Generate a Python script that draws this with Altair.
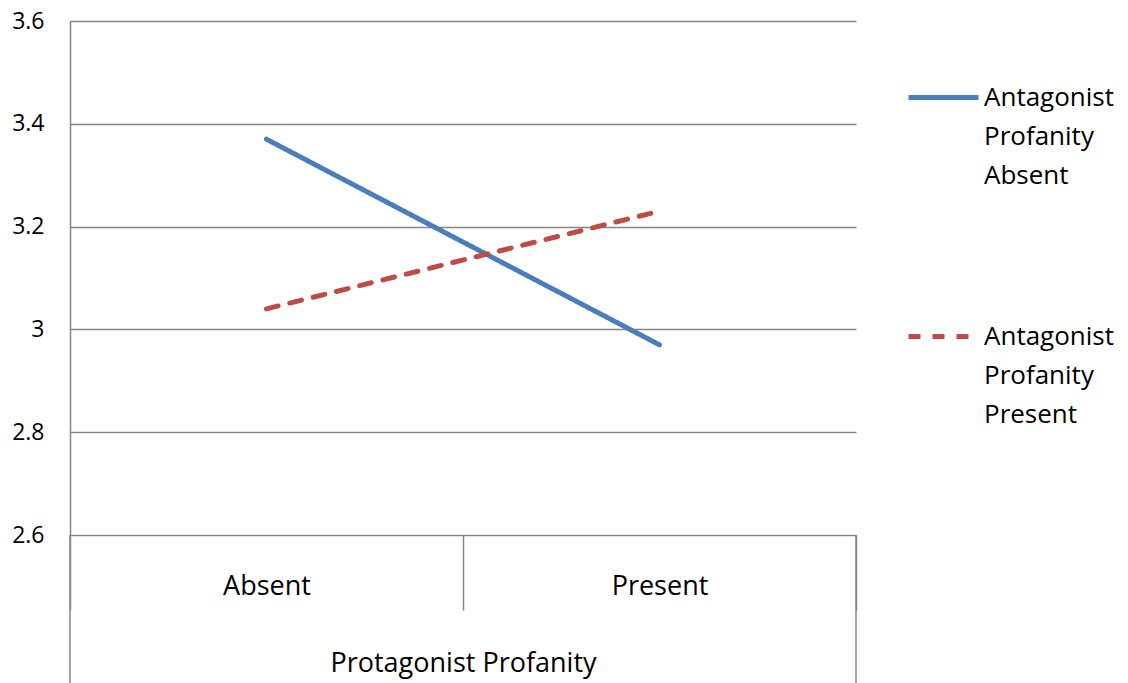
import altair as alt
import pandas as pd

# --- data ---
protagonist = ["Absent", "Present"]
series_names = ["Antagonist Profanity Absent", "Antagonist Profanity Present"]
antag_absent = [3.37, 2.97]
antag_present = [3.04, 3.23]
y_ticks = [2.6, 2.8, 3.0, 3.2, 3.4, 3.6]

rows = []
for name, vals in zip(series_names, [antag_absent, antag_present]):
    for cat, v in zip(protagonist, vals):
        rows.append({"protagonist": cat, "series": name, "value": v})
df = pd.DataFrame(rows)

W, H = 786, 514
GRID = "#868686"
FONT = "Open Sans"

legend = alt.Legend(
    title=None,
    orient="none",
    legendX=836,
    legendY=39,
    symbolType="stroke",
    symbolSize=4900,
    symbolStrokeWidth=5,
    labelFont=FONT,
    labelFontSize=26,
    labelColor="black",
    labelOffset=3,
    labelLimit=400,
    labelBaseline="middle",
    labelExpr="[split(datum.label, ' ')[0], split(datum.label, ' ')[1], split(datum.label, ' ')[2], '']",
    rowPadding=71,
    padding=0,
)

lines = alt.Chart(df).mark_line(strokeWidth=5, strokeCap="round").encode(
    x=alt.X(
        "protagonist:N",
        sort=protagonist,
        bandPosition=0.5,
        scale=alt.Scale(type="band", domain=protagonist, paddingInner=0, paddingOuter=0),
        axis=alt.Axis(
            title="Protagonist Profanity",
            labelAngle=0,
            labelFont=FONT,
            labelFontSize=27,
            labelLineHeight=27,
            labelColor="black",
            labelPadding=-24,
            labelBaseline="middle",
            titleFont=FONT,
            titleFontSize=27,
            titleFontWeight="normal",
            titleColor="black",
            titleY=128,
            titleBaseline="middle",
            domain=False,
            ticks=True,
            tickBand="extent",
            tickSize=75,
            tickColor=GRID,
            tickWidth=1.5,
            grid=False,
        ),
    ),
    y=alt.Y(
        "value:Q",
        scale=alt.Scale(domain=[2.6, 3.6], nice=False, zero=False),
        axis=alt.Axis(
            title=None,
            values=y_ticks,
            format="~g",
            labelFont=FONT,
            labelFontSize=23,
            labelLineHeight=23,
            labelColor="black",
            labelPadding=26,
            ticks=False,
            domain=True,
            domainColor=GRID,
            domainWidth=1.5,
            grid=True,
            gridColor=GRID,
            gridWidth=1.5,
        ),
    ),
    color=alt.Color(
        "series:N",
        sort=series_names,
        scale=alt.Scale(domain=series_names, range=["#4A7EBB", "#BE4B48"]),
        legend=legend,
    ),
    strokeDash=alt.StrokeDash(
        "series:N",
        sort=series_names,
        scale=alt.Scale(domain=series_names, range=[[1, 0], [12, 12]]),
        legend=legend,
    ),
)

edge_left = alt.Chart(alt.Data(values=[{}])).mark_rule(color=GRID, strokeWidth=1.5).encode(
    x=alt.value(0), y=alt.value(H), y2=alt.value(H + 150)
)
edge_right = alt.Chart(alt.Data(values=[{}])).mark_rule(color=GRID, strokeWidth=1.5).encode(
    x=alt.value(W), y=alt.value(H), y2=alt.value(H + 150)
)

chart = (
    alt.layer(lines, edge_left, edge_right)
    .properties(
        width=W,
        height=H,
        autosize=alt.AutoSizeParams(type="none"),
        padding={"left": 62, "top": 13, "right": 264, "bottom": 150},
    )
    .configure(style={"guide-label": {"lineHeight": 39}})
    .configure_view(stroke=None)
)

chart.save("out.html", embed_options={"renderer": "svg", "actions": False})
